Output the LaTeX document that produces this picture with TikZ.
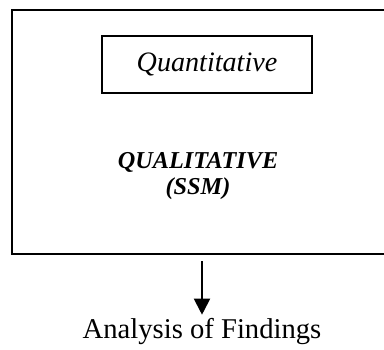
\documentclass[tikz,border=0pt]{standalone}
\usepackage{fontspec}
\setmainfont{Liberation Serif}
\usetikzlibrary{arrows.meta,positioning}

\begin{document}
\begin{tikzpicture}[x=0.2mm,y=-0.2mm,
                outerbox/.style={
                    draw=black,
                    line width=1.2pt,
                    rectangle,
                    minimum width=7.76cm,
                    minimum height=4.88cm
                },
                innerbox/.style={
                    draw=black,
                    line width=0.8pt,
                    rectangle,
                    minimum width=4.2cm,
                    minimum height=1.14cm,
                    font=\fontsize{16}{19}\selectfont\itshape
                },
                label/.style={
                    align=center,
                    font=\fontsize{13.8}{14.5}\selectfont\bfseries\itshape
                },
                arrow/.style={
                    -{Triangle[width=0.32cm,length=0.32cm]},
                    line width=1.1pt
                }
            ]
                \clip (0,0) rectangle (384,350);

                \node[outerbox] (qual) at (206,132) {};
                \node[innerbox] (quant) at (207,64.5) {Quantitative};
                \node[label] (qualtext) at (198,176) {QUALITATIVE\\(SSM)};
                \node[font=\fontsize{16.3}{19}\selectfont, inner sep=1pt] (findings) at (202,332) {Analysis of Findings};

                \draw[arrow, shorten <=0.12cm, shorten >=0.04cm] (findings.north |- qual.south) -- (findings.north);
        \end{tikzpicture}
\end{document}
